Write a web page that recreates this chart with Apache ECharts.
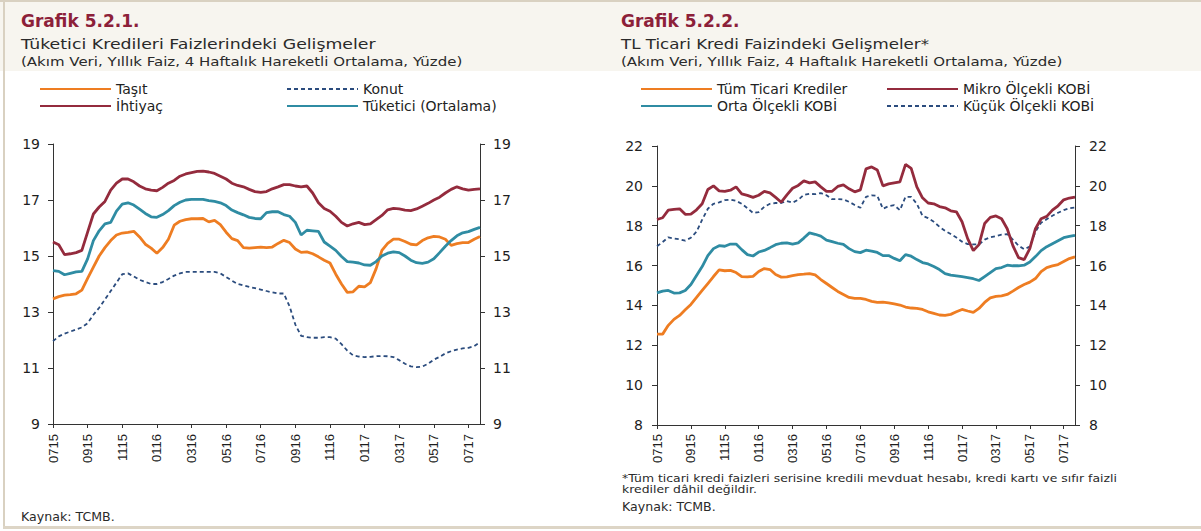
<!DOCTYPE html>
<html>
<head>
<meta charset="utf-8">
<title>Grafik 5.2.1 / 5.2.2</title>
<script src="https://cdn.jsdelivr.net/npm/echarts@6/dist/echarts.min.js"></script>
<style>
    html, body { margin: 0; padding: 0; background: #ffffff; }
    #main { width: 1201px; height: 531px; }
</style>
</head>
<body>
<div id="main"></div>
<script>
// x ekseni etiketleri (iki ayda bir, ayYıl)
var tickLabels = ['0715', '0915', '1115', '0116', '0316', '0516', '0716',
                  '0916', '1116', '0117', '0317', '0517', '0717'];

// Grafik 5.2.1 - Tüketici kredileri (yaklaşık 10 günlük noktalar)
var tasit = [13.47, 13.55, 13.6, 13.62, 13.65, 13.78, 14.2, 14.6, 15.0, 15.3, 15.55, 15.75, 15.82, 15.84, 15.88,
    15.68, 15.42, 15.28, 15.1, 15.3, 15.6, 16.1, 16.24, 16.3, 16.33, 16.33, 16.34, 16.22, 16.27, 16.12,
    15.85, 15.62, 15.55, 15.3, 15.28, 15.3, 15.32, 15.3, 15.32, 15.45, 15.56, 15.48, 15.25, 15.13, 15.15,
    15.08, 14.97, 14.85, 14.75, 14.35, 14.0, 13.7, 13.72, 13.92, 13.9, 14.05, 14.55, 15.2, 15.45, 15.6,
    15.6, 15.52, 15.42, 15.4, 15.55, 15.65, 15.7, 15.68, 15.6, 15.38, 15.44, 15.48, 15.48, 15.6, 15.7];
var konut = [11.96, 12.13, 12.23, 12.3, 12.38, 12.45, 12.6, 12.9, 13.15, 13.45, 13.75, 14.05, 14.35, 14.38, 14.27,
    14.15, 14.07, 14.0, 14.0, 14.07, 14.18, 14.3, 14.38, 14.43, 14.43, 14.43, 14.43, 14.43, 14.43, 14.38,
    14.25, 14.12, 14.0, 13.95, 13.9, 13.85, 13.8, 13.75, 13.7, 13.66, 13.66, 13.2, 12.55, 12.15, 12.1,
    12.08, 12.08, 12.1, 12.1, 12.05, 11.85, 11.62, 11.45, 11.41, 11.39, 11.4, 11.42, 11.43, 11.42, 11.39,
    11.28, 11.15, 11.06, 11.03, 11.05, 11.15, 11.3, 11.4, 11.52, 11.6, 11.66, 11.7, 11.72, 11.78, 11.92];
var ihtiyac = [15.5, 15.4, 15.05, 15.08, 15.12, 15.2, 15.85, 16.5, 16.75, 16.95, 17.35, 17.6, 17.75, 17.75, 17.65,
    17.5, 17.4, 17.35, 17.33, 17.45, 17.6, 17.7, 17.85, 17.93, 17.98, 18.02, 18.03, 18.0, 17.95, 17.85,
    17.75, 17.6, 17.52, 17.47, 17.38, 17.3, 17.27, 17.3, 17.4, 17.47, 17.55, 17.55, 17.5, 17.47, 17.5,
    17.25, 16.9, 16.7, 16.6, 16.42, 16.2, 16.07, 16.15, 16.2, 16.12, 16.15, 16.3, 16.45, 16.65, 16.7,
    16.68, 16.64, 16.62, 16.68, 16.78, 16.88, 17.0, 17.1, 17.25, 17.38, 17.47, 17.4, 17.35, 17.38, 17.4];
var tuketici = [14.48, 14.45, 14.33, 14.38, 14.43, 14.45, 14.9, 15.55, 15.9, 16.15, 16.2, 16.6, 16.85, 16.9, 16.82,
    16.67, 16.52, 16.4, 16.38, 16.48, 16.62, 16.8, 16.92, 17.0, 17.02, 17.02, 17.02, 16.98, 16.95, 16.9,
    16.8, 16.64, 16.55, 16.47, 16.38, 16.34, 16.33, 16.55, 16.58, 16.58, 16.48, 16.42, 16.2, 15.75, 15.92,
    15.9, 15.88, 15.5, 15.35, 15.2, 14.98, 14.8, 14.78, 14.75, 14.68, 14.67, 14.8, 15.0, 15.1, 15.15,
    15.12, 15.0, 14.85, 14.76, 14.74, 14.78, 14.9, 15.12, 15.35, 15.55, 15.72, 15.83, 15.87, 15.95, 16.02];

// Grafik 5.2.2 - TL ticari krediler
var tumTicari = [12.56, 12.56, 13.0, 13.3, 13.5, 13.78, 14.05, 14.4, 14.75, 15.1, 15.45, 15.78, 15.74, 15.76, 15.65,
    15.45, 15.43, 15.46, 15.7, 15.85, 15.8, 15.55, 15.42, 15.43, 15.5, 15.55, 15.57, 15.6, 15.53, 15.3,
    15.1, 14.9, 14.7, 14.55, 14.4, 14.35, 14.35, 14.3, 14.2, 14.15, 14.17, 14.13, 14.08, 14.02, 13.92,
    13.87, 13.85, 13.8, 13.68, 13.6, 13.52, 13.5, 13.55, 13.68, 13.8, 13.72, 13.65, 13.85, 14.15, 14.38,
    14.45, 14.48, 14.55, 14.72, 14.9, 15.05, 15.17, 15.35, 15.7, 15.9, 15.98, 16.05, 16.2, 16.35, 16.44];
var mikro = [18.31, 18.4, 18.78, 18.82, 18.85, 18.57, 18.58, 18.8, 19.1, 19.82, 20.0, 19.75, 19.72, 19.78, 19.95,
    19.6, 19.52, 19.42, 19.53, 19.72, 19.65, 19.42, 19.18, 19.55, 19.88, 20.02, 20.25, 20.15, 20.2, 19.95,
    19.72, 19.73, 19.97, 20.05, 19.85, 19.7, 19.8, 20.85, 20.95, 20.8, 20.0, 20.1, 20.15, 20.2, 21.08,
    20.88, 19.95, 19.4, 19.14, 19.1, 18.96, 18.9, 18.75, 18.7, 18.2, 17.35, 16.75, 17.05, 18.11, 18.42,
    18.49, 18.35, 17.85, 17.0, 16.4, 16.3, 16.85, 17.85, 18.35, 18.47, 18.78, 19.0, 19.3, 19.39, 19.44];
var orta = [14.63, 14.72, 14.75, 14.62, 14.63, 14.75, 15.05, 15.5, 15.95, 16.5, 16.85, 17.0, 16.97, 17.08, 17.08,
    16.8, 16.55, 16.48, 16.68, 16.76, 16.9, 17.05, 17.12, 17.14, 17.08, 17.14, 17.38, 17.64, 17.57, 17.48,
    17.28, 17.2, 17.12, 17.06, 16.85, 16.7, 16.65, 16.77, 16.73, 16.66, 16.5, 16.5, 16.36, 16.24, 16.55,
    16.47, 16.3, 16.15, 16.08, 15.95, 15.8, 15.6, 15.52, 15.48, 15.44, 15.4, 15.34, 15.25, 15.45, 15.65,
    15.85, 15.9, 16.02, 15.99, 15.99, 16.02, 16.18, 16.45, 16.75, 16.95, 17.1, 17.25, 17.4, 17.46, 17.52];
var kucuk = [16.97, 17.18, 17.42, 17.36, 17.32, 17.25, 17.4, 17.7, 18.3, 18.85, 19.1, 19.17, 19.28, 19.31, 19.25,
    19.1, 18.88, 18.64, 18.68, 18.95, 19.1, 19.14, 19.14, 19.24, 19.16, 19.3, 19.55, 19.6, 19.58, 19.64,
    19.53, 19.33, 19.34, 19.32, 19.2, 19.04, 18.9, 19.45, 19.52, 19.5, 18.85, 18.98, 19.03, 18.78, 19.45,
    19.45, 19.1, 18.5, 18.38, 18.2, 17.95, 17.74, 17.58, 17.41, 17.2, 17.08, 17.06, 17.06, 17.3, 17.42,
    17.48, 17.55, 17.58, 17.3, 17.0, 16.82, 16.95, 17.7, 18.15, 18.33, 18.5, 18.65, 18.78, 18.88, 18.91];

// kategoriler: her etiketten sonra ara noktalar
var categories = [];
for (var k = 0; k < tickLabels.length; k++) {
    categories.push(tickLabels[k]);
    var fill = (k < tickLabels.length - 1) ? 5 : 2;
    for (var j = 1; j <= fill; j++) {
        categories.push(tickLabels[k] + '_' + j);
    }
}

var cOrange = '#EE7D22';
var cMaroon = '#942B3D';
var cTeal = '#2F8CA3';
var cNavy = '#2B4C7E';
var axisColor = '#333333';
var textColor = '#2a2a2a';

function makeX(gridIndex, margin) {
    return {
        type: 'category',
        gridIndex: gridIndex,
        data: categories,
        boundaryGap: false,
        axisLine: { lineStyle: { color: axisColor, width: 1 } },
        axisTick: { interval: 5, length: 4, lineStyle: { color: axisColor } },
        axisLabel: {
            interval: 5,
            rotate: 90,
            margin: margin,
            color: '#1e1e1e',
            fontFamily: 'Liberation Sans',
            fontSize: 13,
            formatter: function (v) { return v.indexOf('_') < 0 ? v : ''; }
        },
        splitLine: { show: false }
    };
}

function makeY(gridIndex, pos, min, max, margin) {
    return {
        type: 'value',
        gridIndex: gridIndex,
        position: pos,
        min: min,
        max: max,
        interval: 2,
        axisLine: { show: true, lineStyle: { color: axisColor, width: 1 } },
        axisTick: { show: true, length: 5, lineStyle: { color: axisColor } },
        axisLabel: { margin: margin, color: '#1e1e1e', fontFamily: 'DejaVu Sans', fontSize: 14 },
        splitLine: { show: false }
    };
}

function makeLine(name, data, color, xi, yi, dashed) {
    return {
        name: name,
        type: 'line',
        xAxisIndex: xi,
        yAxisIndex: yi,
        data: data,
        symbol: 'none',
        showSymbol: false,
        lineStyle: dashed ? { color: color, width: 1.8, type: [4, 3] } : { color: color, width: 2.8 },
        itemStyle: { color: color },
        z: dashed ? 3 : 4
    };
}

function makeLegend(name, left, top) {
    return {
        data: [name],
        left: left,
        top: top,
        padding: 0,
        itemWidth: 71,
        itemHeight: 14,
        selectedMode: false,
        itemStyle: { opacity: 0 },
        textStyle: { fontFamily: 'DejaVu Sans', fontSize: 14, color: '#222', lineHeight: 14 }
    };
}

// başlık ve dipnotlar: Century Gothic genişliğine yaklaşmak için yatay ölçek
function makeText(text, x, y, size, sx) {
    return {
        type: 'text',
        x: x,
        y: y,
        scaleX: sx,
        style: {
            text: text,
            fill: textColor,
            fontFamily: 'DejaVu Sans',
            fontSize: size,
            verticalAlign: 'middle',
            lineHeight: 11
        }
    };
}

var myChart = echarts.init(document.getElementById('main'), null, { renderer: 'svg' });

var option = {
    animation: false,
    backgroundColor: '#ffffff',
    graphic: {
        elements: [
            { type: 'rect', z: -10, shape: { x: 0, y: 0, width: 1201, height: 71 }, style: { fill: '#F7F5EF' } },
            { type: 'rect', z: -9, shape: { x: 0, y: 0, width: 1201, height: 2 }, style: { fill: '#D9D1C1' } },
            { type: 'rect', z: -9, shape: { x: 3, y: 0, width: 2, height: 529 }, style: { fill: '#D9D1C1' } },
            { type: 'rect', z: -9, shape: { x: 3, y: 526, width: 1198, height: 3 }, style: { fill: '#DDD5C6' } },
            makeText('Tüketici Kredileri Faizlerindeki Gelişmeler', 21, 44, 14, 1.24),
            makeText('(Akım Veri, Yıllık Faiz, 4 Haftalık Hareketli Ortalama, Yüzde)', 21, 61, 12.5, 1.2),
            makeText('TL Ticari Kredi Faizindeki Gelişmeler*', 621, 44, 14, 1.19),
            makeText('(Akım Veri, Yıllık Faiz, 4 Haftalık Hareketli Ortalama, Yüzde)', 621, 61, 12.5, 1.2),
            makeText('Kaynak: TCMB.', 21, 517, 12, 1.05),
            makeText('*Tüm ticari kredi faizleri serisine kredili mevduat hesabı, kredi kartı ve sıfır faizli', 622, 478, 11, 1.13),
            makeText('krediler dâhil değildir.', 622, 489, 11, 1.13),
            makeText('Kaynak: TCMB.', 622, 507, 12, 1.05)
        ]
    },
    title: [
        { text: 'Grafik 5.2.1.', left: 21, top: 12, padding: 0,
          textStyle: { fontFamily: 'DejaVu Sans', fontSize: 17, fontWeight: 'bold', color: '#8C2039' } },
        { text: 'Grafik 5.2.2.', left: 621, top: 12, padding: 0,
          textStyle: { fontFamily: 'DejaVu Sans', fontSize: 17, fontWeight: 'bold', color: '#8C2039' } }
    ],
    legend: [
        makeLegend('Taşıt', 39, 82),
        makeLegend('Konut', 286, 82),
        makeLegend('İhtiyaç', 39, 99),
        makeLegend('Tüketici (Ortalama)', 286, 99),
        makeLegend('Tüm Ticari Krediler', 640, 82),
        makeLegend('Mikro Ölçekli KOBİ', 886, 82),
        makeLegend('Orta Ölçekli KOBİ', 640, 99),
        makeLegend('Küçük Ölçekli KOBİ', 886, 99)
    ],
    grid: [
        { left: 53, right: 721, top: 144, bottom: 107, containLabel: false },
        { left: 657, right: 126, top: 146, bottom: 106, containLabel: false }
    ],
    xAxis: [makeX(0, 10), makeX(1, 9)],
    yAxis: [
        makeY(0, 'left', 9, 19, 13),
        makeY(0, 'right', 9, 19, 13),
        makeY(1, 'left', 8, 22, 14),
        makeY(1, 'right', 8, 22, 14)
    ],
    series: [
        makeLine('Taşıt', tasit, cOrange, 0, 0, false),
        makeLine('Konut', konut, cNavy, 0, 0, true),
        makeLine('İhtiyaç', ihtiyac, cMaroon, 0, 0, false),
        makeLine('Tüketici (Ortalama)', tuketici, cTeal, 0, 0, false),
        makeLine('Tüm Ticari Krediler', tumTicari, cOrange, 1, 2, false),
        makeLine('Mikro Ölçekli KOBİ', mikro, cMaroon, 1, 2, false),
        makeLine('Orta Ölçekli KOBİ', orta, cTeal, 1, 2, false),
        makeLine('Küçük Ölçekli KOBİ', kucuk, cNavy, 1, 2, true)
    ]
};

myChart.setOption(option);
</script>
</body>
</html>
